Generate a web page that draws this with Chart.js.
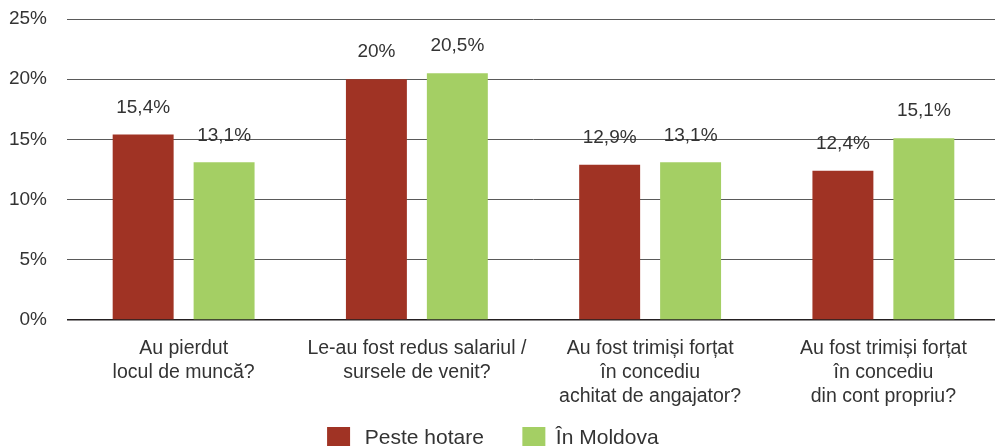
<!DOCTYPE html>
<html>
<head>
<meta charset="utf-8">
<script src="https://cdn.jsdelivr.net/npm/chart.js@4/dist/chart.umd.min.js"></script>
<style>
  html, body { margin: 0; padding: 0; background: #fff; overflow: hidden; }
  #wrap { width: 1000px; height: 460px; }
</style>
</head>
<body>
<div id="wrap"><canvas id="myChart" width="1000" height="460"></canvas></div>
<script>
// categorii (axa X), pe rânduri
const categories = [
    ['Au pierdut', 'locul de muncă?'],
    ['Le-au fost redus salariul /', 'sursele de venit?'],
    ['Au fost trimiși forțat', 'în concediu', 'achitat de angajator?'],
    ['Au fost trimiși forțat', 'în concediu', 'din cont propriu?']
];
const seriesNames = ['Peste hotare', 'În Moldova'];
const pesteHotare = [15.4, 20, 12.9, 12.4];
const inMoldova = [13.1, 20.5, 13.1, 15.1];
const yTicks = [0, 5, 10, 15, 20, 25];

const FONT = "'Liberation Sans', Arial, Helvetica, sans-serif";
const TEXT = '#333333';

// etichete cu valori deasupra barelor
const valueLabels = {
    id: 'valueLabels',
    afterDatasetsDraw(chart) {
        const ctx = chart.ctx;
        ctx.save();
        ctx.font = '19px ' + FONT;
        ctx.fillStyle = TEXT;
        ctx.textAlign = 'center';
        ctx.textBaseline = 'middle';
        chart.data.datasets.forEach((ds, i) => {
            chart.getDatasetMeta(i).data.forEach((bar, j) => {
                const txt = String(ds.data[j]).replace('.', ',') + '%';
                ctx.fillText(txt, bar.x, bar.y - 27);
            });
        });
        ctx.restore();
    }
};

const ctx = document.getElementById('myChart').getContext('2d');
new Chart(ctx, {
    type: 'bar',
    data: {
        labels: categories,
        datasets: [
            { label: seriesNames[0], data: pesteHotare, backgroundColor: '#a03324' },
            { label: seriesNames[1], data: inMoldova, backgroundColor: '#a4cf64' }
        ]
    },
    options: {
        responsive: false,
        animation: false,
        categoryPercentage: 0.694,
        barPercentage: 0.753,
        layout: { padding: { top: 19, left: 9, right: 0, bottom: 0 } },
        scales: {
            x: {
                grid: { display: false, drawTicks: false },
                border: { display: false },
                ticks: {
                    font: { family: FONT, size: 19.5, lineHeight: 1.23 },
                    color: TEXT,
                    padding: 17,
                    maxRotation: 0,
                    autoSkip: false
                },
                afterFit: (axis) => { axis.height = 86; }
            },
            y: {
                min: 0,
                max: 25,
                afterBuildTicks: (axis) => { axis.ticks = yTicks.map(v => ({ value: v })); },
                grid: {
                    drawTicks: false,
                    color: (c) => c.tick && c.tick.value === 0 ? '#231f20' : '#5a5a5a',
                    lineWidth: (c) => c.tick && c.tick.value === 0 ? 1.6 : 1
                },
                border: { display: false },
                ticks: {
                    font: { family: FONT, size: 19 },
                    color: TEXT,
                    padding: 20,
                    callback: (v) => v + '%'
                },
                afterFit: (axis) => {
                    axis.width = 58;
                    axis.paddingTop = 11;
                    axis.paddingBottom = 11;
                }
            }
        },
        plugins: {
            legend: {
                position: 'bottom',
                labels: {
                    font: { family: FONT, size: 21 },
                    color: TEXT,
                    boxWidth: 23,
                    boxHeight: 23,
                    padding: 21,
                    generateLabels: (chart) => {
                        const items = Chart.defaults.plugins.legend.labels.generateLabels(chart);
                        items[0].text = '\u2009' + items[0].text + '   ';
                        items[1].text = items[1].text + '    ';
                        return items;
                    }
                }
            },
            tooltip: { enabled: false }
        }
    },
    plugins: [valueLabels]
});
</script>
</body>
</html>
